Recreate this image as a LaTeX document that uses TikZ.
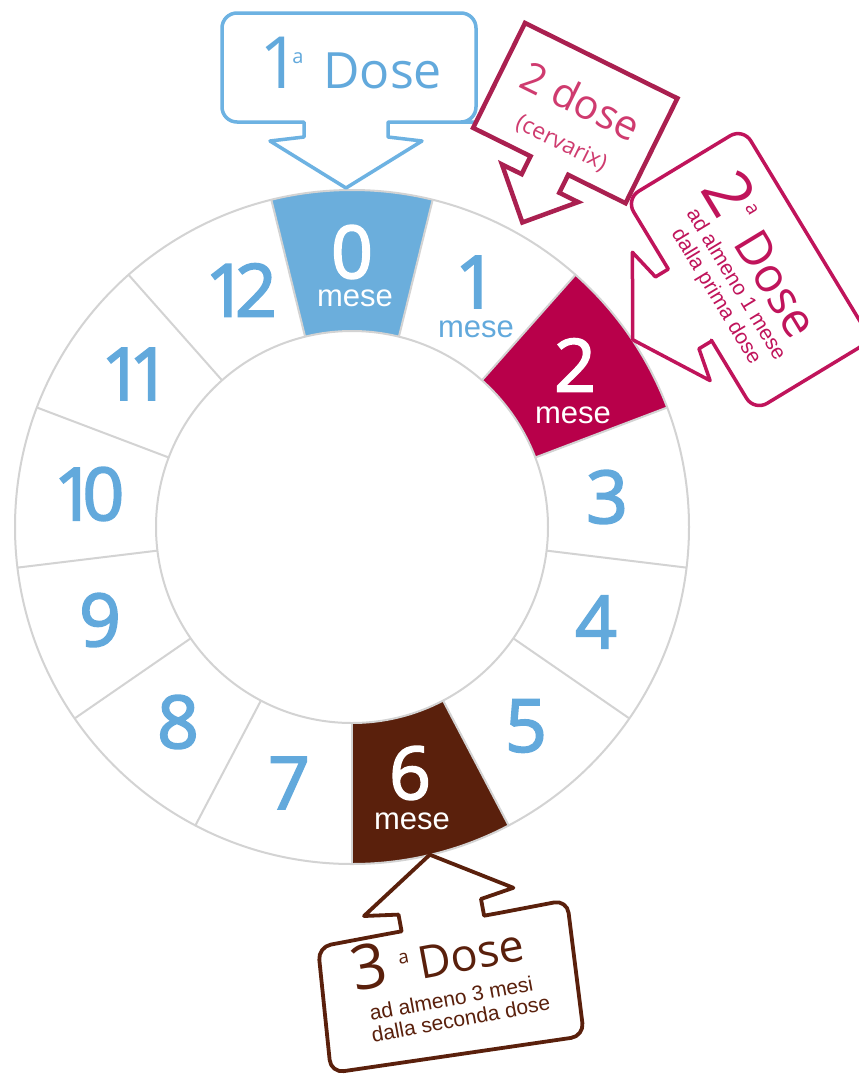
\documentclass[tikz,border=0pt]{standalone}
\usepackage{fontspec}
\setmainfont{Open Sans}
\newfontfamily\arialf{Liberation Sans}
\newfontfamily\numf[FakeBold=2.5]{Open Sans}
\definecolor{ringgray}{HTML}{D3D3D3}
\definecolor{segblue}{HTML}{6BAEDC}
\definecolor{numblue}{HTML}{62A9DC}
\definecolor{boxblue}{HTML}{6DB2E2}
\definecolor{segmag}{HTML}{B8004A}
\definecolor{cervbox}{HTML}{AA2050}
\definecolor{cervtxt}{HTML}{CF3B6F}
\definecolor{dosemag}{HTML}{C0145B}
\definecolor{brown}{HTML}{5A200C}
\tikzset{
  ringline/.style={draw=ringgray, line width=2pt},
  ringnum/.style={font=\numf\fontsize{73}{73}\selectfont, text=numblue, inner sep=0pt},
  whitenum/.style={ringnum, text=white},
  mesel/.style={font=\arialf\fontsize{31}{31}\selectfont, inner sep=0pt},
  boxone/.style={draw=boxblue, line width=3.5pt, line join=round},
  boxcerv/.style={draw=cervbox, line width=4.5pt, line join=miter},
  boxtwo/.style={draw=dosemag, line width=3.5pt, line join=round},
  boxthree/.style={draw=brown, line width=3.8pt, line join=round},
  subtxt/.style={font=\arialf\fontsize{21}{21}\selectfont, inner sep=0pt},
}
\begin{document}
\begin{tikzpicture}[x=1pt,y=-1pt]
\fill[white] (0,0) rectangle (859,1077);
\useasboundingbox (0,0) rectangle (859,1077);

% ring
\begin{scope}[shift={(352,527)}]
  \fill[segblue] (76.154:337pt) arc[start angle=76.154,end angle=103.846,radius=337pt]
     -- (103.846:196pt) arc[start angle=103.846,end angle=76.154,radius=196pt] -- cycle;
  \fill[segmag] (20.769:337pt) arc[start angle=20.769,end angle=48.462,radius=337pt]
     -- (48.462:196pt) arc[start angle=48.462,end angle=20.769,radius=196pt] -- cycle;
  \fill[brown] (-90:337pt) arc[start angle=-90,end angle=-62.308,radius=337pt]
     -- (-62.308:196pt) arc[start angle=-62.308,end angle=-90,radius=196pt] -- cycle;
  \draw[ringline] (0,0) circle[radius=337pt];
  \draw[ringline] (0,0) circle[radius=196pt];
  \foreach \k in {0,...,12}
    \draw[ringline] ({90-(\k+0.5)*360/13}:196pt) -- ({90-(\k+0.5)*360/13}:337pt);
\end{scope}

% numbers
\node[whitenum] (n0) at (352,252) {0};
\node[mesel, text=white] (m0) at (355,298) {mese};
\node[ringnum] (n1) at (476,282) {1};
\node[mesel, text=numblue] (m1) at (476,329) {mese};
\node[whitenum] (n2) at (575,365) {2};
\node[mesel, text=white] (m2) at (573,415) {mese};
\node[ringnum] (n3) at (607,497) {3};
\node[ringnum] (n4) at (596,622) {4};
\node[ringnum] (n5) at (526,726) {5};
\node[whitenum] (n6) at (410,773) {6};
\node[mesel, text=white] (m6) at (412,821) {mese};
\node[ringnum] (n7) at (289,783) {7};
\node[ringnum] (n8) at (178,722) {8};
\node[ringnum] (n9) at (100,620) {9};
\node[ringnum] (n10) at (89,494) {1\kern-13pt 0};
\node[ringnum] (n11) at (136,374) {1\kern-14pt 1};
\node[ringnum] (n12) at (241,290) {1\kern-12pt 2};

% box 1a
\draw[boxone] (346,188) -- (270,141) -- (304,137) -- (304,122) -- (290,122)
  [rounded corners=15pt] -- (222,122) -- (222,13) -- (476,13) -- (476,122) -- (460,122)
  [sharp corners] -- (388,122) -- (388,137) -- (422,141) -- cycle;
\node[anchor=base west, inner sep=0pt, text=numblue] (b1txt) at (259,88)
  {\fontsize{72}{72}\selectfont 1\kern-8pt\raisebox{25pt}{\fontsize{20}{20}\selectfont a}\kern20pt\fontsize{50}{50}\selectfont Dose};

% box 2 dose (cervarix)
\begin{scope}[shift={(525,23)}, rotate=-26.3]
  \draw[boxcerv] (0,0) -- (170,0) -- (170,117) -- (106,117) -- (106,137) -- (127,137)
    -- (86,180) -- (42,137) -- (64,137) -- (64,117) -- (0,117) -- cycle;
  \node[transform shape, inner sep=0pt, text=cervtxt, font=\fontsize{41}{41}\selectfont] (c2a) at (85,45) {2 dose};
  \node[transform shape, inner sep=0pt, text=cervtxt, font=\fontsize{23}{23}\selectfont] (c2b) at (86,92) {(cervarix)};
\end{scope}

% box 2a dose
\begin{scope}[shift={(743,128)}, rotate=-58.8]
  \draw[boxtwo] (124,204) -- (49,159) -- (82,152) -- (82,137) -- (70,137)
    [rounded corners=15pt] -- (0,137) -- (0,0) -- (248,0) -- (248,137) -- (180,137)
    [sharp corners] -- (166,137) -- (166,152) -- (199,159) -- cycle;
  \node[transform shape, anchor=base west, inner sep=0pt, text=dosemag] (b2txt) at (30,69)
    {\fontsize{66}{66}\selectfont 2\kern1pt\raisebox{29pt}{\fontsize{19}{19}\selectfont a}\kern14pt\fontsize{48}{48}\selectfont Dose};
  \node[transform shape, anchor=base, subtxt, text=dosemag] (b2s1) at (130,93) {ad almeno 1 mese};
  \node[transform shape, anchor=base, subtxt, text=dosemag] (b2s2) at (130,116) {dalla prima dose};
\end{scope}

% box 3a dose
\draw[boxthree] (429.8,854.7) -- (513.4,887.8) -- (481.0,899.0) -- (484.1,915.7) -- (499.9,912.8)
  [rounded corners=13pt] -- (567,900) -- (584,1036) -- (331,1073) -- (318,947) -- (386.8,934.0)
  [sharp corners] -- (401.6,931.3) -- (398.5,914.6) -- (364.0,916.0) -- cycle;
\node[anchor=base west, rotate=10.6, inner sep=0pt, text=brown] (b3txt) at (355,992)
  {\fontsize{62}{62}\selectfont 3\kern13pt\raisebox{19pt}{\fontsize{19}{19}\selectfont a}\kern8pt\fontsize{45}{45}\selectfont Dose};
\node[anchor=base west, rotate=10.6, subtxt, text=brown] (b3s1) at (371,1021) {ad almeno 3 mesi};
\node[anchor=base west, rotate=10.6, subtxt, text=brown] (b3s2) at (373,1043) {dalla seconda dose};
\end{tikzpicture}
\end{document}
